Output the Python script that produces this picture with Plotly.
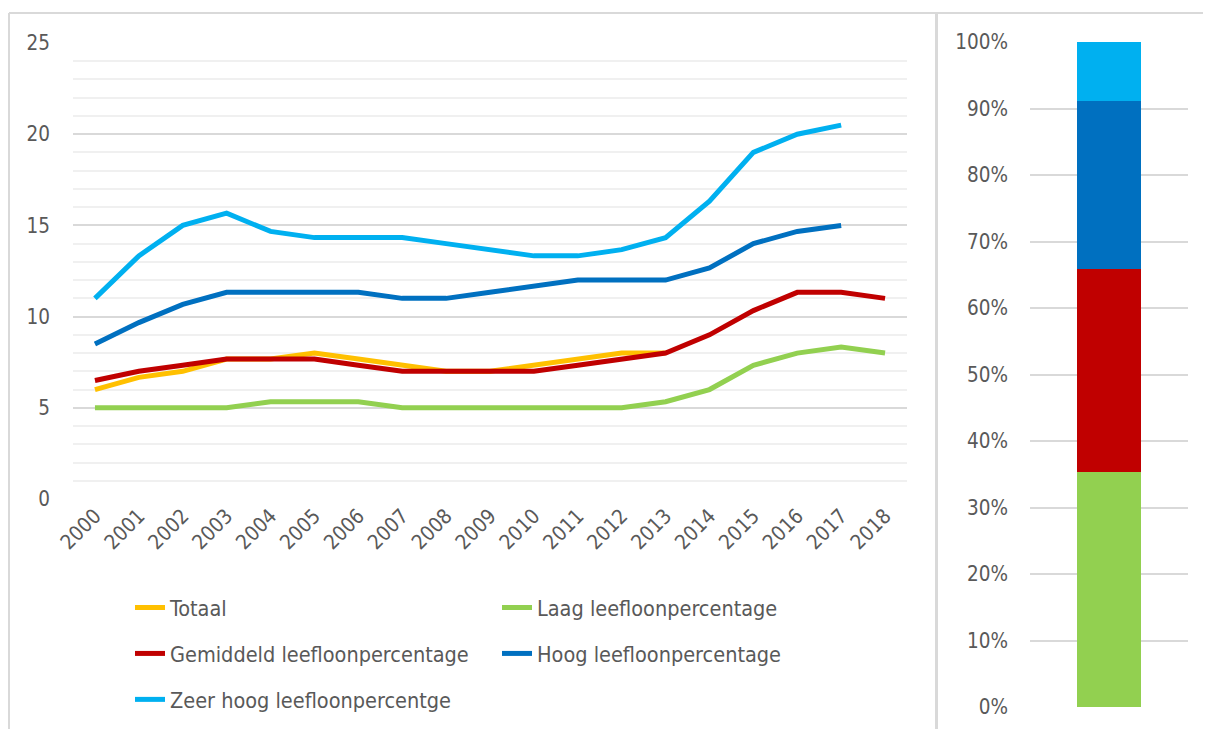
import plotly.graph_objects as go

years = [str(y) for y in range(2000, 2019)]

totaal = [6.0, 6.67, 7.0, 7.67, 7.67, 8.0, 7.67, 7.33, 7.0, 7.0, 7.33, 7.67, 8.0, 8.0,
          None, None, None, None, None]
laag = [5.0, 5.0, 5.0, 5.0, 5.33, 5.33, 5.33, 5.0, 5.0, 5.0, 5.0, 5.0, 5.0, 5.33,
        6.0, 7.33, 8.0, 8.33, 8.0]
gemiddeld = [6.5, 7.0, 7.33, 7.67, 7.67, 7.67, 7.33, 7.0, 7.0, 7.0, 7.0, 7.33, 7.67, 8.0,
             9.0, 10.33, 11.33, 11.33, 11.0]
hoog = [8.5, 9.67, 10.67, 11.33, 11.33, 11.33, 11.33, 11.0, 11.0, 11.33, 11.67, 12.0, 12.0, 12.0,
        12.67, 14.0, 14.67, 15.0, None]
zeer_hoog = [11.0, 13.33, 15.0, 15.67, 14.67, 14.33, 14.33, 14.33, 14.0, 13.67, 13.33, 13.33, 13.67, 14.33,
             16.33, 19.0, 20.0, 20.5, None]

bar_category = [""]
bar_names = ["Laag leefloonpercentage", "Gemiddeld leefloonpercentage",
             "Hoog leefloonpercentage", "Zeer hoog leefloonpercentge"]
bar_shares = [35.3, 30.6, 25.2, 8.9]

colors = {
    "Totaal": "#FFC000",
    "Laag": "#92D050",
    "Gemiddeld": "#C00000",
    "Hoog": "#0070C0",
    "Zeer": "#00B0F0",
}

FONT = "Liberation Sans Narrow, Arial Narrow, DejaVu Sans Condensed, sans-serif"
TXT = "#595959"
W, H = 1211, 729
OFF = 8  # page body margin
TICK = 20.5
LEG = 21.5

fig = go.Figure()

line_series = [
    ("Totaal", totaal, colors["Totaal"], "legend", "g1"),
    ("Laag leefloonpercentage", laag, colors["Laag"], "legend2", "g4"),
    ("Gemiddeld leefloonpercentage", gemiddeld, colors["Gemiddeld"], "legend", "g2"),
    ("Hoog leefloonpercentage", hoog, colors["Hoog"], "legend2", "g5"),
    ("Zeer hoog leefloonpercentge", zeer_hoog, colors["Zeer"], "legend", "g3"),
]
for name, vals, col, leg, grp in line_series:
    fig.add_trace(go.Scatter(
        x=years, y=vals, name=name, mode="lines",
        line=dict(color=col, width=5),
        xaxis="x", yaxis="y", legend=leg, legendgroup=grp,
        connectgaps=False,
    ))

bar_colors = [colors["Laag"], colors["Gemiddeld"], colors["Hoog"], colors["Zeer"]]
for name, v, col in zip(bar_names, bar_shares, bar_colors):
    fig.add_trace(go.Bar(
        x=bar_category, y=[v], name=name, marker=dict(color=col, line=dict(width=0)),
        width=0.405, xaxis="x2", yaxis="y2", showlegend=False,
    ))

def px_x(p):
    return (p - OFF) / W

def px_y(p):
    return (H - (p - OFF)) / H

fig.update_layout(
    width=W, height=H,
    margin=dict(l=0, r=0, t=0, b=0, autoexpand=False),
    paper_bgcolor="white", plot_bgcolor="white",
    font=dict(family=FONT, color=TXT, size=TICK),
    barmode="stack",
    xaxis=dict(
        domain=[px_x(73), px_x(907)], type="category", range=[-0.5, 18.5],
        tickangle=-45, showgrid=False, showline=False, ticks="",
        tickfont=dict(size=TICK, color=TXT), anchor="y", automargin=False,
    ),
    yaxis=dict(
        domain=[px_y(499), px_y(43)], range=[0, 25], dtick=5,
        showgrid=True, gridcolor="#D9D9D9", gridwidth=1.5,
        minor=dict(dtick=1, showgrid=True, gridcolor="#F0F0F0", gridwidth=1.5),
        zeroline=False, showline=False, ticks="",
        ticklabelstandoff=22,
        tickfont=dict(size=TICK, color=TXT), anchor="x", automargin=False,
    ),
    xaxis2=dict(
        domain=[px_x(1030), px_x(1188)], type="category", range=[-0.5, 0.5],
        showgrid=False, showline=False, ticks="", showticklabels=False,
        anchor="y2", automargin=False,
    ),
    yaxis2=dict(
        domain=[px_y(707), px_y(42)], range=[0, 100], dtick=10, ticksuffix="%",
        showgrid=True, gridcolor="#D9D9D9", gridwidth=1.5,
        zeroline=False, showline=False, ticks="",
        ticklabelstandoff=21,
        tickfont=dict(size=TICK, color=TXT), anchor="x2", automargin=False,
    ),
    legend=dict(
        x=px_x(130), y=px_y(587), xanchor="left", yanchor="top",
        orientation="v", traceorder="grouped", tracegroupgap=15,
        font=dict(size=LEG, color=TXT), bgcolor="rgba(0,0,0,0)",
        itemwidth=30,
    ),
    legend2=dict(
        x=px_x(497), y=px_y(587), xanchor="left", yanchor="top",
        orientation="v", traceorder="grouped", tracegroupgap=15,
        font=dict(size=LEG, color=TXT), bgcolor="rgba(0,0,0,0)",
        itemwidth=30,
    ),
    shapes=[
        dict(type="line", xref="paper", yref="paper",
             x0=px_x(9), x1=px_x(9), y0=0, y1=px_y(13),
             line=dict(color="#D9D9D9", width=2)),
        dict(type="line", xref="paper", yref="paper",
             x0=px_x(9), x1=1, y0=px_y(13), y1=px_y(13),
             line=dict(color="#D9D9D9", width=2)),
        dict(type="line", xref="paper", yref="paper",
             x0=px_x(936.5), x1=px_x(936.5), y0=0, y1=px_y(13),
             line=dict(color="#D9D9D9", width=3)),
    ],
)

fig.write_html("out.html")
